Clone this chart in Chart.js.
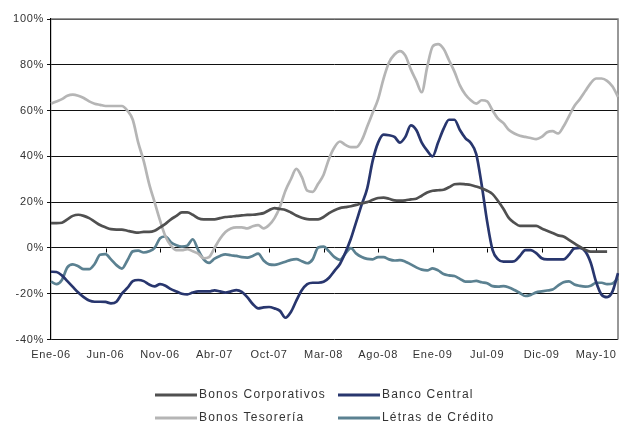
<!DOCTYPE html>
<html>
<head>
<meta charset="utf-8">
<script src="https://cdn.jsdelivr.net/npm/chart.js@4.4.1/dist/chart.umd.min.js"></script>
<style>
  html, body { margin: 0; padding: 0; background: #fff; }
  canvas { display: block; }
</style>
</head>
<body>
<canvas id="myChart" width="628" height="425"></canvas>
<script>
// Tick labels along the x axis (one every 10 points)
const tickLabels = ['Ene-06', 'Jun-06', 'Nov-06', 'Abr-07', 'Oct-07', 'Mar-08',
    'Ago-08', 'Ene-09', 'Jul-09', 'Dic-09', 'May-10'];

// Series values (%), 105 points
const bonosCorporativos = [
    10.8, 10.8, 11, 12.5, 14, 14.5, 14, 13, 11.5, 10,
    9, 8.2, 8, 8, 7.5, 7, 6.7, 7, 7, 7.5,
    9, 10.5, 12.5, 14, 15.5, 15.5, 14.5, 13, 12.5, 12.5,
    12.5, 13, 13.5, 13.7, 14, 14.2, 14.4, 14.5, 14.8, 15.2,
    16.5, 17.4, 17, 16.6, 15.5, 14.2, 13.2, 12.6, 12.5, 12.5,
    13.5, 15.2, 16.5, 17.4, 17.8, 18.2, 18.8, 19.5, 20, 21,
    21.8, 22, 21.5, 20.8, 20.7, 20.8, 21.2, 21.5, 22.8, 24.2,
    25, 25.2, 25.4, 26.5, 27.8, 28, 27.8, 27.5, 26.8, 26,
    25, 23.5, 20.5, 17, 13, 11, 9.6, 9.6, 9.6, 9.6,
    8.5, 7.5, 6.5, 5.5, 5, 3.5, 2, 0.5, -0.8, -1.6,
    -1.6, -1.6, -1.6, null, null
];

const bancoCentral = [
    -10.4, -10.5, -12, -14.5, -17, -19.5, -21.5, -23, -23.5, -23.5,
    -23.6, -24.2, -23.5, -20, -17.5, -14.5, -14, -14.5, -16, -16.8,
    -15.8, -16.5, -18, -19, -20, -20.3, -19.5, -19, -19, -19,
    -18.5, -19, -19.5, -19, -18.4, -19.2, -21.5, -24.5, -26.4, -26,
    -25.8, -26.4, -27.5, -30.5, -28, -23, -18.5, -15.8, -15.2, -15.2,
    -14.8, -13, -10, -7, -2, 4, 11.5, 19, 26, 38,
    46, 49.5, 49.2, 48.5, 46, 48.5, 53.5, 51.5, 46, 42.5,
    40, 46, 52, 56, 56, 51.5, 48, 45.8, 41, 27.5,
    11.5, -1, -5, -6, -6, -5.8, -3.5, -1, -1, -2.3,
    -4.5, -5, -5, -5, -5, -3, -0.2, 0, -1.5, -6.5,
    -15, -20.5, -21.5, -19, -11
];

const bonosTesoreria = [
    63, 64, 65, 66.5, 67, 66.5, 65.5, 64, 63, 62.5,
    62, 62, 62, 62, 60, 56, 46, 38, 28, 20,
    12, 5, 1, -1, -1, -0.5, -1.5, -2.5, -4.5, -4,
    0, 4, 7, 8.5, 9, 9, 8.5, 9.5, 10, 8.5,
    10, 13, 18, 25, 30, 34.5, 31, 25, 24.5, 28,
    32, 39, 44, 46.5, 45, 44, 44, 47, 53, 59,
    65, 74, 81, 84.5, 86, 84, 78, 73, 68, 79,
    88, 89, 87, 82, 77, 71, 67, 64.5, 63, 64.5,
    64, 60, 56.5, 54.5, 51.5, 50, 49, 48.5, 48, 47.5,
    48.5, 50.5, 51, 50, 53, 57.5, 62, 65, 68.5, 72,
    74, 74, 73, 70.5, 66
];

const letrasCredito = [
    -14.7, -15.8, -14, -8.5, -7.2, -8, -9.3, -9.3, -7, -3,
    -2.7, -5, -7.5, -9, -5.5, -1.5, -1.2, -2, -1.5, 0,
    4.2, 5, 2.5, 1.2, 0.6, 1, 3.8, -0.9, -5, -6.5,
    -4.7, -3.5, -2.8, -3.2, -3.5, -4, -4.2, -3.5, -2.5, -5.5,
    -7.2, -7.4, -6.8, -6, -5.2, -4.9, -5.8, -6.7, -5, 0.2,
    0.6, -1.5, -4, -5.2, -2.5, -0.1, -2.5, -4, -4.8, -5,
    -4, -4, -5, -5.5, -5.3, -6, -7.2, -8.5, -9.5, -9.8,
    -8.9, -9.8, -11.4, -12, -12.3, -13.5, -14.7, -14.7, -14.4, -15,
    -15.4, -16.7, -16.9, -16.7, -17.3, -18.4, -19.7, -21, -20.5, -19.4,
    -19, -18.6, -18.2, -16.5, -15, -14.6, -16, -16.6, -16.9, -16.5,
    -15.2, -15.2, -15.8, -15.5, -13.3
];

// Category labels: a tick label every 10 points, blank in between
const categories = [];
for (let i = 0; i < bancoCentral.length; i++) {
    categories.push(i % 10 === 0 ? tickLabels[i / 10] : '');
}

const FONT = "'Liberation Sans', Arial, sans-serif";

// Frame, zero-line ticks and the two-column legend
const extras = {
    id: 'extras',
    beforeDraw(chart) {
        chart.ctx.letterSpacing = '0.7px';
    },
    beforeDatasetsDraw(chart) {
        const { ctx, chartArea, scales } = chart;
        ctx.save();
        // grey frame on top and right
        ctx.strokeStyle = '#777';
        ctx.lineWidth = 1.5;
        ctx.beginPath();
        ctx.moveTo(chartArea.left, chartArea.top);
        ctx.lineTo(chartArea.right, chartArea.top);
        ctx.lineTo(chartArea.right, chartArea.bottom);
        ctx.stroke();
        // tick marks hanging under the 0% line
        const y0 = Math.round(scales.y.getPixelForValue(0)) + 0.5;
        ctx.strokeStyle = '#000';
        ctx.lineWidth = 1;
        ctx.beginPath();
        for (let i = 10; i < categories.length; i += 10) {
            const x = Math.round(scales.x.getPixelForValue(i)) + 0.5;
            ctx.moveTo(x, y0);
            ctx.lineTo(x, y0 + 4);
        }
        ctx.stroke();
        ctx.restore();
    },
    afterDraw(chart) {
        const ctx = chart.ctx;
        const cols = [155, 338];
        const rows = [395, 418];
        ctx.save();
        ctx.letterSpacing = '1.2px';
        ctx.font = '12px ' + FONT;
        ctx.textBaseline = 'middle';
        ctx.fillStyle = '#333';
        chart.data.datasets.forEach((ds, i) => {
            const x = cols[i % 2];
            const y = rows[Math.floor(i / 2)];
            ctx.strokeStyle = ds.borderColor;
            ctx.lineWidth = 3;
            ctx.beginPath();
            ctx.moveTo(x, y);
            ctx.lineTo(x + 42, y);
            ctx.stroke();
            ctx.fillText(ds.label, x + 44, y);
        });
        ctx.restore();
    }
};

const lineStyle = {
    borderWidth: 2.7,
    pointRadius: 0,
    fill: false,
    cubicInterpolationMode: 'monotone',
    spanGaps: false
};

new Chart(document.getElementById('myChart'), {
    type: 'line',
    data: {
        labels: categories,
        datasets: [
            { label: 'Bonos Corporativos', data: bonosCorporativos, borderColor: '#505050', ...lineStyle },
            { label: 'Banco Central', data: bancoCentral, borderColor: '#28366e', ...lineStyle },
            { label: 'Bonos Tesorería', data: bonosTesoreria, borderColor: '#b5b5b5', ...lineStyle },
            { label: 'Létras de Crédito', data: letrasCredito, borderColor: '#5b8191', ...lineStyle }
        ]
    },
    options: {
        responsive: false,
        animation: false,
        layout: { padding: { left: 0, right: 10, top: 19, bottom: 0 } },
        plugins: {
            legend: { display: false },
            tooltip: { enabled: false }
        },
        scales: {
            x: {
                offset: false,
                grid: { display: false, drawTicks: false },
                border: { display: false },
                ticks: {
                    autoSkip: false,
                    maxRotation: 0,
                    padding: 9,
                    color: '#333',
                    font: { family: FONT, size: 11 },
                    callback: (v, i) => categories[i]
                },
                afterFit: s => { s.height = 85.5; }
            },
            y: {
                min: -40,
                max: 100,
                ticks: {
                    stepSize: 20,
                    padding: 3,
                    color: '#333',
                    font: { family: FONT, size: 11 },
                    callback: v => v + '%'
                },
                grid: { color: '#111', lineWidth: 1, tickLength: 4 },
                border: { display: true, color: '#000', width: 1.2 },
                afterFit: s => { s.width = 51; }
            }
        }
    },
    plugins: [extras]
});
</script>
</body>
</html>
